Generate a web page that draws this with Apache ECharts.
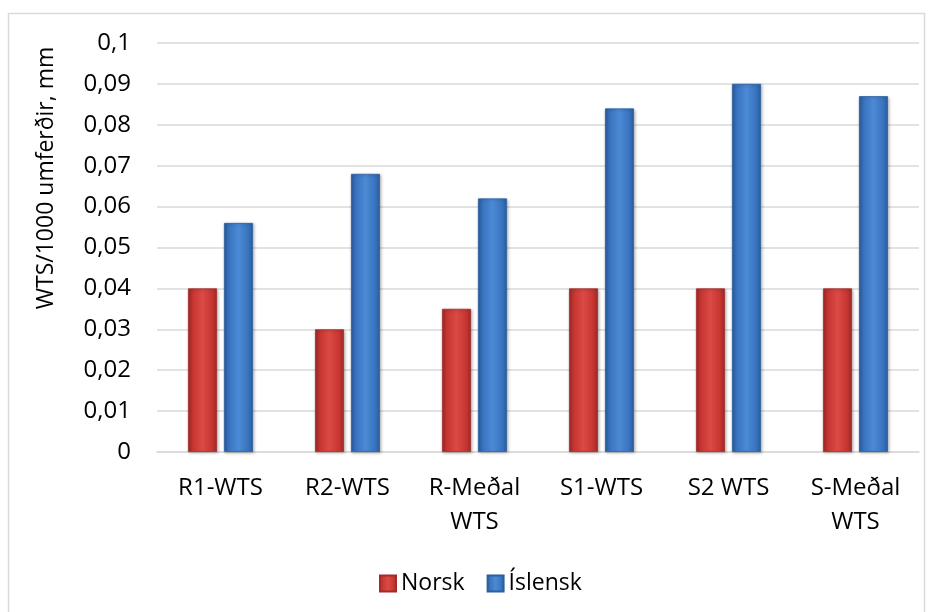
<!DOCTYPE html>
<html>
<head>
<meta charset="utf-8">
<script src="https://cdn.jsdelivr.net/npm/echarts@6/dist/echarts.min.js"></script>
<style>
  html, body { margin: 0; padding: 0; background: #ffffff; }
  #chart { width: 932px; height: 612px; }
</style>
</head>
<body>
<div id="chart"></div>
<script>
// Categories and values (WTS per 1000 passes, mm)
const categories = ['R1-WTS', 'R2-WTS', 'R-Meðal\nWTS', 'S1-WTS', 'S2 WTS', 'S-Meðal\nWTS'];
const norsk = [0.040, 0.030, 0.035, 0.040, 0.040, 0.040];
const islensk = [0.056, 0.068, 0.062, 0.084, 0.090, 0.087];
const yTicks = { min: 0, max: 0.1, interval: 0.01 };
const yTitle = 'WTS/1000 umferðir, mm';

const FONT = '"Open Sans", "Liberation Sans", sans-serif';

// Horizontal gradient that gives the bars a rounded, glossy look
function barGradient(edge, mid, light) {
  return new echarts.graphic.LinearGradient(0, 0, 1, 0, [
    { offset: 0, color: edge },
    { offset: 0.18, color: mid },
    { offset: 0.5, color: light },
    { offset: 0.82, color: mid },
    { offset: 1, color: edge }
  ]);
}

const chart = echarts.init(document.getElementById('chart'), null, { renderer: 'canvas' });

chart.setOption({
  backgroundColor: '#ffffff',
  animation: false,
  graphic: [
    {
      type: 'rect',
      shape: { x: 8.5, y: 13.5, width: 916, height: 610 },
      style: { fill: 'none', stroke: '#d9d9d9', lineWidth: 1.5 },
      silent: true,
      z: -1
    },
    {
      type: 'text',
      x: 46,
      y: 178,
      rotation: Math.PI / 2,
      style: {
        text: yTitle,
        fontFamily: FONT,
        fontSize: 23,
        fill: '#000000',
        align: 'center',
        verticalAlign: 'middle'
      },
      silent: true
    }
  ],
  grid: { left: 157, right: 13, top: 43, bottom: 160, containLabel: false },
  legend: {
    top: 572,
    left: 379,
    padding: 0,
    itemWidth: 16,
    itemHeight: 16,
    itemGap: 22,
    icon: 'rect',
    textStyle: { fontFamily: FONT, fontSize: 23, color: '#000000' },
    data: ['Norsk', 'Íslensk']
  },
  xAxis: {
    type: 'category',
    data: categories,
    axisLine: { show: true, lineStyle: { color: '#d9d9d9', width: 1.5 } },
    axisTick: { show: false },
    axisLabel: {
      fontFamily: FONT, fontSize: 24, color: '#000000',
      lineHeight: 34, margin: 19, interval: 0
    }
  },
  yAxis: {
    type: 'value',
    min: yTicks.min,
    max: yTicks.max,
    interval: yTicks.interval,
    axisLine: { show: false },
    axisTick: { show: false },
    splitLine: { lineStyle: { color: '#d9d9d9', width: 1.5 } },
    axisLabel: {
      fontFamily: FONT, fontSize: 24, color: '#000000', margin: 26,
      formatter: v => String(Math.round(v * 100) / 100).replace('.', ',')
    }
  },
  series: [
    {
      name: 'Norsk',
      type: 'bar',
      data: norsk,
      barWidth: 29,
      barGap: '24%',
      itemStyle: {
        color: barGradient('#9e2a27', '#c73632', '#db4a45'),
        borderColor: '#a32c29',
        borderWidth: 0.8,
        shadowColor: 'rgba(0,0,0,0.25)',
        shadowBlur: 3,
        shadowOffsetX: 1,
        shadowOffsetY: 1
      }
    },
    {
      name: 'Íslensk',
      type: 'bar',
      data: islensk,
      barWidth: 29,
      itemStyle: {
        color: barGradient('#2a5d9f', '#3a74c0', '#4b8ad6'),
        borderColor: '#2c5f9f',
        borderWidth: 0.8,
        shadowColor: 'rgba(0,0,0,0.25)',
        shadowBlur: 3,
        shadowOffsetX: 1,
        shadowOffsetY: 1
      }
    }
  ]
});
</script>
</body>
</html>
